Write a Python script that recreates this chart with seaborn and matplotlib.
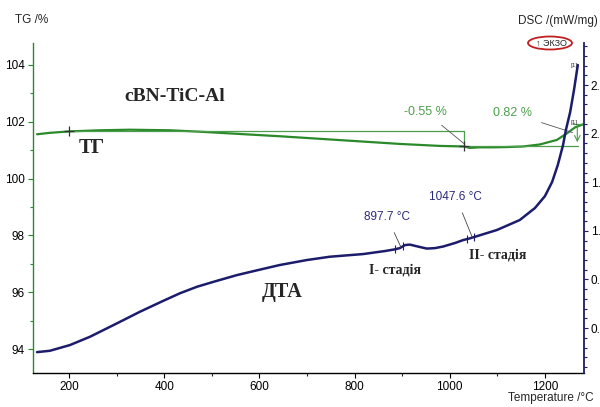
import numpy as np
import pandas as pd
import matplotlib
matplotlib.use("Agg")
import matplotlib.pyplot as plt
import seaborn as sns
from matplotlib.ticker import MultipleLocator, AutoMinorLocator
from matplotlib.patches import Ellipse

# ---- data ----
tg_temp = [133, 160, 200, 265, 328, 412, 475, 559, 643, 727, 811, 895, 979, 1030,
           1042, 1063, 1090, 1120, 1154, 1189, 1225, 1246, 1263, 1280]
tg_val = [101.56, 101.61, 101.66, 101.70, 101.72, 101.70, 101.65, 101.57, 101.49,
          101.40, 101.31, 101.22, 101.15, 101.13, 101.08, 101.10, 101.10, 101.11,
          101.13, 101.20, 101.36, 101.59, 101.80, 101.91]

dsc_temp = [133, 160, 202, 244, 301, 349, 397, 433, 469, 511, 553, 597, 643, 700, 748,
            818, 864, 885, 895, 906, 916, 933, 952, 969, 986, 1011, 1028, 1042, 1099,
            1147, 1179, 1200, 1215, 1227, 1238, 1244, 1253, 1261, 1269]
dsc_val = [0.202, 0.213, 0.260, 0.328, 0.439, 0.534, 0.622, 0.686, 0.740, 0.789, 0.836,
           0.877, 0.919, 0.960, 0.987, 1.009, 1.034, 1.048, 1.058, 1.083, 1.087, 1.071,
           1.054, 1.058, 1.071, 1.100, 1.124, 1.138, 1.207, 1.289, 1.388, 1.486, 1.602,
           1.742, 1.906, 2.030, 2.178, 2.359, 2.565]

tg_steps = ["-0.55 %", "0.82 %"]
peak_labels = ["897.7 °C", "1047.6 °C"]
peak_temps = [897.7, 1047.6]
x_ticks = [200, 400, 600, 800, 1000, 1200]
tg_ticks = [94, 96, 98, 100, 102, 104]
dsc_ticks = [0.4, 0.8, 1.2, 1.6, 2.0, 2.4]
# the reference shows these labels cut off at the image edge
dsc_tick_labels = ["0.", "0.", "1.", "1.", "2.", "2."]

tg_df = pd.DataFrame({"T": tg_temp, "TG": tg_val})
dsc_df = pd.DataFrame({"T": dsc_temp, "DSC": dsc_val})

# ---- style ----
sns.set_style("ticks")
plt.rcParams["font.family"] = ["Liberation Sans", "DejaVu Sans"]

GREEN = "#2a8a2a"
LGREEN = "#4c9e4c"
NAVY = "#1c1c6c"
SERIF = "Liberation Serif"

fig = plt.figure(figsize=(6, 4.07), dpi=100)
ax = fig.add_axes([0.055, 0.0835, 0.9183, 0.8108])
ax2 = ax.twinx()

sns.lineplot(data=tg_df, x="T", y="TG", ax=ax, color=GREEN, lw=1.6, sort=False)
sns.lineplot(data=dsc_df, x="T", y="DSC", ax=ax2, color=NAVY, lw=1.8, sort=False)

ax.set_xlim(124.5, 1282)
ax.set_ylim(93.16, 104.77)
ax2.set_ylim(0.03, 2.746)

ax.set_xticks(x_ticks)
ax.xaxis.set_minor_locator(MultipleLocator(100))
ax.set_yticks(tg_ticks)
ax.yaxis.set_minor_locator(MultipleLocator(1))
ax2.set_yticks(dsc_ticks)
ax2.set_yticklabels(dsc_tick_labels)
ax2.yaxis.set_minor_locator(AutoMinorLocator(5))

for a in (ax, ax2):
    a.set_xlabel("")
    a.set_ylabel("")
ax.tick_params(axis="both", which="major", labelsize=8.5, length=3.5, width=0.8,
               colors="black", pad=2.5, direction="out")
ax.tick_params(axis="both", which="minor", length=2.5, width=0.8)
ax.tick_params(axis="y", which="both", color=GREEN)
ax2.tick_params(axis="y", which="major", labelsize=8.5, length=3, width=0.8,
                color=NAVY, labelcolor="black", pad=2)
ax2.tick_params(axis="y", which="minor", length=2, width=0.8, color=NAVY)

for a in (ax, ax2):
    a.spines["top"].set_visible(False)
ax.spines["right"].set_visible(False)
ax2.spines["left"].set_visible(False)
ax2.spines["bottom"].set_visible(False)
ax.spines["left"].set_color(GREEN)
ax.spines["left"].set_linewidth(1.0)
ax.spines["bottom"].set_color("black")
ax.spines["bottom"].set_linewidth(1.0)
ax2.spines["right"].set_color(NAVY)
ax2.spines["right"].set_linewidth(1.3)

# ---- TG step annotations ----
tg_start = np.interp(200, tg_temp, tg_val)
tg_min_T = 1030
tg_min = np.interp(tg_min_T, tg_temp, tg_val)
tg_end = tg_val[-1]
ax.plot([200, tg_min_T], [tg_start, tg_start], color=LGREEN, lw=0.9)
ax.plot([tg_min_T, tg_min_T], [tg_start, tg_min], color=LGREEN, lw=0.9)
ax.plot([tg_min_T, 1270], [tg_min, tg_min], color=LGREEN, lw=0.9)
ax.plot([1258, 1280], [tg_end, tg_end], color=LGREEN, lw=0.9)
ax.annotate("", xy=(1268, tg_min + 0.05), xytext=(1268, tg_end),
            arrowprops=dict(arrowstyle="->", color=LGREEN, lw=0.8))
ax.plot([200, tg_min_T], [tg_start, tg_min], ls="none", marker="+",
        color="#333333", ms=7, mew=0.9)

ax.annotate(tg_steps[0], xy=(tg_min_T, tg_min + 0.1), xytext=(948, 102.36),
            color=LGREEN, fontsize=9, ha="center", va="center",
            arrowprops=dict(arrowstyle="-", color="#555555", lw=0.6,
                            shrinkA=5, shrinkB=0))
ax.annotate(tg_steps[1], xy=(1258, 101.62), xytext=(1131, 102.3),
            color=LGREEN, fontsize=9, ha="center", va="center",
            arrowprops=dict(arrowstyle="-", color="#555555", lw=0.6,
                            shrinkA=5, shrinkB=0))

# ---- DSC peak annotations ----
for T0, lab, pos in zip(peak_temps, peak_labels, [(868, 1.314), (1013, 1.478)]):
    yv = np.interp(T0, dsc_temp, dsc_val)
    ax2.annotate(lab, xy=(T0, yv), xytext=pos,
                 color="#2a2a7a", fontsize=8.5, ha="center", va="center",
                 arrowprops=dict(arrowstyle="-", color="#444444", lw=0.6,
                                 shrinkA=5, shrinkB=0))
    for dT in (-12, 4):
        ax2.plot([T0 + dT], [np.interp(T0 + dT, dsc_temp, dsc_val)], marker="|",
                 color=NAVY, ms=6, mew=0.8)

# ---- text labels ----
ax.text(423, 102.89, "cBN-TiC-Al", fontfamily=SERIF, fontweight="bold",
        fontsize=14, ha="center", va="center")
ax.text(248, 101.08, "ТГ", fontfamily=SERIF, fontweight="bold",
        fontsize=14.5, ha="center", va="center")
ax.text(647, 96.0, "ДТА", fontfamily=SERIF, fontweight="bold",
        fontsize=14.5, ha="center", va="center")
ax.text(885, 96.8, "I- стадія", fontfamily=SERIF, fontweight="bold",
        fontsize=10, ha="center", va="center")
ax.text(1101, 97.3, "II- стадія", fontfamily=SERIF, fontweight="bold",
        fontsize=10, ha="center", va="center")
ax.text(1262, 103.98, "[1]", fontsize=4.5, color="#333333", ha="center", va="center")
ax.text(1262, 101.98, "[1]", fontsize=4.5, color="#333333", ha="center", va="center")

fig.text(32 / 600, 1 - 20 / 407, "TG /%", fontsize=8.5, ha="center", va="center")
fig.text(558 / 600, 1 - 21 / 407, "DSC /(mW/mg)", fontsize=8.5, ha="center", va="center")
fig.text(551 / 600, 1 - 398 / 407, "Temperature /°C", fontsize=8.5, ha="center",
         va="center")
fig.text(551 / 600, 1 - 43 / 407, "↑ ЭКЗО", fontsize=6.5, ha="center", va="center")
fig.patches.append(Ellipse((550 / 600, 1 - 43 / 407), 44 / 600, 13 / 407,
                           transform=fig.transFigure, fill=False,
                           edgecolor="#c02020", lw=1.3))

fig.savefig("out.png", dpi=100)
